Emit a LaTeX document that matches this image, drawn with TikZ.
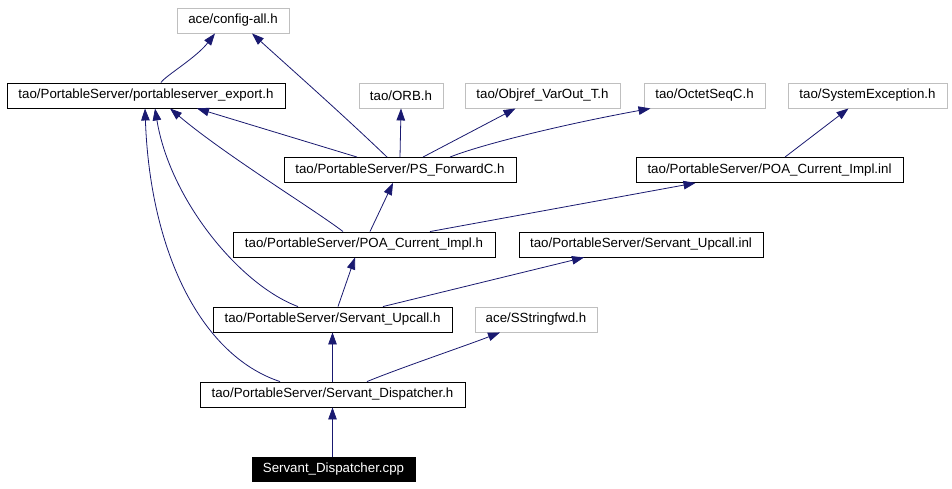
\documentclass[tikz,border=0pt]{standalone}
\usepackage{fontspec}
\setmainfont{Liberation Sans}
\usetikzlibrary{arrows.meta}
\definecolor{edgeblue}{HTML}{191970}
\definecolor{lightbox}{HTML}{BFBFBF}
\tikzset{
  box/.style={draw=black, line width=0.9pt, rectangle, minimum height=25pt, inner sep=0pt,
    font=\fontsize{13.3}{16}\selectfont, text=black},
  graybox/.style={box, draw=lightbox},
  rootbox/.style={box, fill=black, text=white},
  edge/.style={draw=edgeblue, line width=0.8pt, -{Triangle[length=12pt,width=8.5pt]}},
}
\begin{document}
\begin{tikzpicture}[x=1pt,y=-1pt]
\useasboundingbox (0,0) rectangle (952,488);
\fill[white] (0,0) rectangle (952,488);
% nodes
\node[graybox, minimum width=112pt] (config) at (233,20.5) {ace/config-all.h};
\node[box, minimum width=278pt] (export) at (146,95.5) {tao/PortableServer/portableserver\_export.h};
\node[graybox, minimum width=84pt] (orb) at (401,95.5) {tao/ORB.h};
\node[graybox, minimum width=155pt] (objref) at (542.5,95.5) {tao/Objref\_VarOut\_T.h};
\node[graybox, minimum width=121pt] (octet) at (704.5,95.5) {tao/OctetSeqC.h};
\node[graybox, minimum width=159pt] (sysexc) at (867.5,95.5) {tao/SystemException.h};
\node[box, minimum width=232pt] (psfwd) at (400,170) {tao/PortableServer/PS\_ForwardC.h};
\node[box, minimum width=267pt] (poainl) at (769.5,170) {tao/PortableServer/POA\_Current\_Impl.inl};
\node[box, minimum width=262pt] (poah) at (364,244.5) {tao/PortableServer/POA\_Current\_Impl.h};
\node[box, minimum width=244pt] (upinl) at (641,244.5) {tao/PortableServer/Servant\_Upcall.inl};
\node[box, minimum width=239pt] (uph) at (332.5,319.5) {tao/PortableServer/Servant\_Upcall.h};
\node[graybox, minimum width=122pt] (sstr) at (536,319.5) {ace/SStringfwd.h};
\node[box, minimum width=265pt] (disph) at (332.5,394.5) {tao/PortableServer/Servant\_Dispatcher.h};
\node[rootbox, minimum width=163pt, minimum height=24pt] (cpp) at (333.5,469) {Servant\_Dispatcher.cpp};
% edges
\draw[edge] ([xshift=15pt]export.north) .. controls (165,76) and (196,58) .. ([xshift=-18pt]config.south);
\draw[edge] ([xshift=-13pt]psfwd.north) .. controls (340,112) and (290,68) .. ([xshift=19pt]config.south);
\draw[edge] ([xshift=-43pt]psfwd.north) -- ([xshift=51pt]export.south);
\draw[edge] (psfwd.north) -- (orb.south);
\draw[edge] ([xshift=23pt]psfwd.north) -- ([xshift=-27pt]objref.south);
\draw[edge] ([xshift=50pt]psfwd.north) .. controls (480,145) and (560,125) .. ([xshift=-54pt]octet.south);
\draw[edge] ([xshift=15.5pt]poainl.north) -- ([xshift=-19pt]sysexc.south);
\draw[edge] ([xshift=6pt]poah.north) -- ([xshift=-7pt]psfwd.south);
\draw[edge] ([xshift=66pt]poah.north) -- ([xshift=-74pt]poainl.south);
\draw[edge] ([xshift=-21pt]poah.north) .. controls (315,210) and (225,155) .. ([xshift=24pt]export.south);
\draw[edge] ([xshift=5.5pt]uph.north) -- ([xshift=-9pt]poah.south);
\draw[edge] ([xshift=50.5pt]uph.north) -- ([xshift=-57pt]upinl.south);
\draw[edge] ([xshift=-34.5pt]uph.north) .. controls (240,285) and (170,200) .. ([xshift=9pt]export.south);
\draw[edge] (disph.north) -- (uph.south);
\draw[edge] ([xshift=34.5pt]disph.north) .. controls (400,368) and (465,346) .. ([xshift=-36pt]sstr.south);
\draw[edge] ([xshift=-52.5pt]disph.north) .. controls (200,355) and (150,250) .. ([xshift=-1pt]export.south);
\draw[edge] ([xshift=-1pt]cpp.north) -- ([xshift=0pt]disph.south);
\end{tikzpicture}
\end{document}
